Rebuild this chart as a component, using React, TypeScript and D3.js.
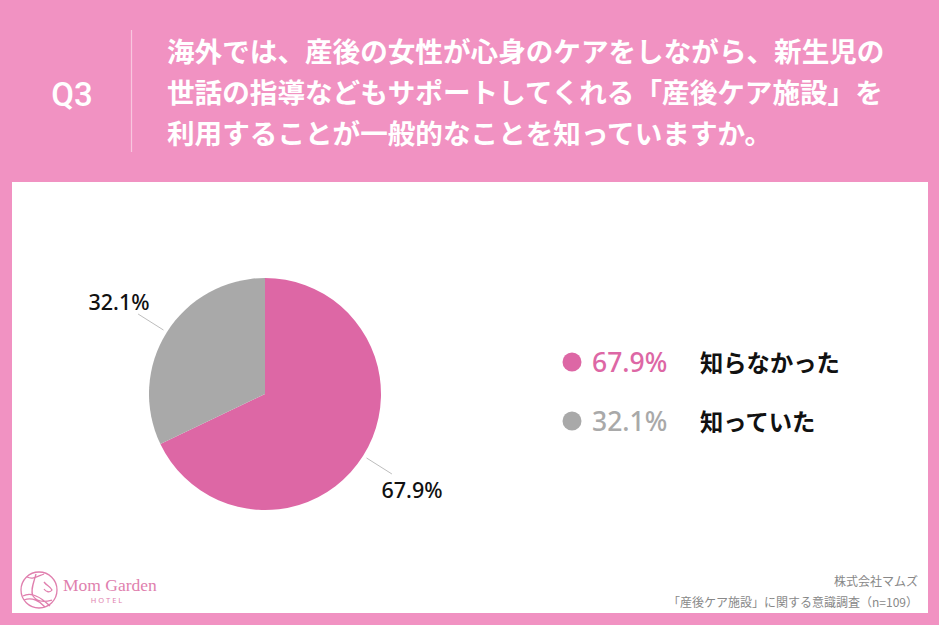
import React from "react";
import * as d3 from "d3";

const categories = ["知らなかった", "知っていた"];
const values = [67.9, 32.1];
const colors = ["#DD67A5", "#A9A9A9"];
const titleLines = [
  "海外では、産後の女性が心身のケアをしながら、新生児の",
  "世話の指導などもサポートしてくれる「産後ケア施設」を",
  "利用することが一般的なことを知っていますか。",
];
const footerLines = ["株式会社マムズ", "「産後ケア施設」に関する意識調査（n=109）"];

const W = 939, H = 625;
const JP = "'Noto Sans CJK JP', 'Noto Sans', sans-serif";

export default function App() {
  const cx = 265, cy = 394, r = 116;
  const pie = d3.pie<number>().sort(null).value((d) => d)(values);
  const arc = d3.arc<d3.PieArcDatum<number>>().innerRadius(0).outerRadius(r);
  const labelPos = [
    { lx: 412, ly: 489 },
    { lx: 119, ly: 301 },
  ];
  const lineIn = d3.arc<d3.PieArcDatum<number>>().innerRadius(r + 4).outerRadius(r + 4);
  const lineOut = d3.arc<d3.PieArcDatum<number>>().innerRadius(r + 34).outerRadius(r + 34);
  const legendY = d3.scalePoint<string>().domain(categories).range([362, 421]);

  return (
    <svg width={W} height={H} style={{ position: "absolute", left: 0, top: 0 }}>
      <style>{`body{margin:0}`}</style>
      <rect x={0} y={0} width={W} height={H} fill="#F192C2" />
      <rect x={12} y={182} width={916} height={431} fill="#FFFFFF" />
      {/* header */}
      <text x={72} y={94} fill="#fff" fontFamily="Roboto, 'Noto Sans', sans-serif" fontSize={33} fontWeight={500} textAnchor="middle" dominantBaseline="central">Q3</text>
      <line x1={131.5} x2={131.5} y1={30} y2={152} stroke="#F8C6DF" strokeWidth={1.2} />
      {titleLines.map((t, i) => (
        <text key={i} x={167} y={50 + i * 41} fill="#fff" fontFamily={JP} fontSize={27.6} fontWeight={700} dominantBaseline="central">{t}</text>
      ))}
      {/* pie */}
      <g transform={`translate(${cx},${cy})`}>
        {pie.map((p, i) => (
          <path key={i} d={arc(p) || ""} fill={colors[i]} />
        ))}
        {pie.map((p, i) => {
          const a = lineIn.centroid(p);
          const b = lineOut.centroid(p);
          return <line key={i} x1={a[0]} y1={a[1]} x2={b[0]} y2={b[1]} stroke="#BDBDBD" strokeWidth={1} />;
        })}
      </g>
      {pie.map((p, i) => (
        <text key={i} x={labelPos[i].lx} y={labelPos[i].ly} fill="#111" fontFamily="'Noto Sans', sans-serif" fontSize={21.5} fontWeight={500} textAnchor="middle" dominantBaseline="central">{values[i].toFixed(1)}%</text>
      ))}
      {/* legend */}
      {categories.map((c, i) => {
        const y = legendY(c) as number;
        return (
          <g key={c}>
            <circle cx={572} cy={y} r={9.5} fill={colors[i]} />
            <text x={592} y={y} fill={colors[i]} fontFamily="'Noto Sans', sans-serif" fontSize={26.5} fontWeight={500} dominantBaseline="central">{values[i].toFixed(1)}%</text>
            <text x={700} y={y} fill="#111" fontFamily={JP} fontSize={23.3} fontWeight={700} dominantBaseline="central">{c}</text>
          </g>
        );
      })}
      {/* footer */}
      {footerLines.map((t, i) => (
        <text key={i} x={918} y={580 + i * 21} fill="#888" fontFamily={JP} fontSize={12} textAnchor="end" dominantBaseline="central">{t}</text>
      ))}
      {/* logo */}
      <g stroke="#E07FAE" fill="none" strokeWidth={1.3}>
        <circle cx={39} cy={590} r={18} />
        <path d="M27 577 C33 580 38 576 44 574 M36 574 C34 582 30 590 33 596 C37 602 45 602 52 600 M44 582 C47 586 50 586 52 590 C50 593 46 592 44 589 M23 596 C30 592 40 596 50 606 M24 600 C32 597 40 601 45 607" />
      </g>
      <text x={63} y={591} fill="#E07FAE" fontFamily="'Liberation Serif', 'DejaVu Serif', serif" fontSize={17.5}>Mom Garden</text>
      <text x={107.5} y={603} fill="#E07FAE" fontFamily="'Noto Sans', sans-serif" fontSize={7.5} letterSpacing={2} textAnchor="middle">HOTEL</text>
    </svg>
  );
}
